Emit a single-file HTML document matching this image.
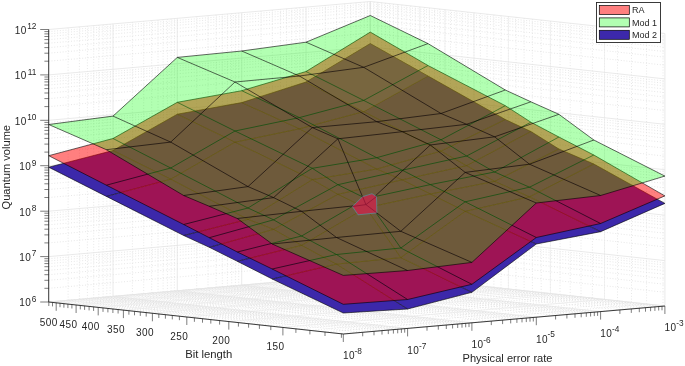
<!DOCTYPE html>
<html><head><meta charset="utf-8"><title>Quantum volume</title>
<style>html,body{margin:0;padding:0;background:#fff}svg{display:block}</style></head>
<body>
<svg width="685" height="366" viewBox="0 0 685 366" font-family="'Liberation Sans', Arial, sans-serif" fill="#262626">
<rect width="685" height="366" fill="#fff"/>
<path d="M48.7 288.3L370.3 260.3M370.3 260.3L664.9 292.3M48.7 280.3L370.3 252.3M370.3 252.3L664.9 284.3M48.7 274.7L370.3 246.7M370.3 246.7L664.9 278.7M48.7 270.3L370.3 242.3M370.3 242.3L664.9 274.3M48.7 266.7L370.3 238.7M370.3 238.7L664.9 270.7M48.7 263.6L370.3 235.6M370.3 235.6L664.9 267.6M48.7 261L370.3 233M370.3 233L664.9 265M48.7 258.7L370.3 230.7M370.3 230.7L664.9 262.7M48.7 242.9L370.3 214.9M370.3 214.9L664.9 246.9M48.7 234.9L370.3 206.9M370.3 206.9L664.9 238.9M48.7 229.2L370.3 201.2M370.3 201.2L664.9 233.2M48.7 224.8L370.3 196.8M370.3 196.8L664.9 228.8M48.7 221.2L370.3 193.2M370.3 193.2L664.9 225.2M48.7 218.2L370.3 190.2M370.3 190.2L664.9 222.2M48.7 215.6L370.3 187.6M370.3 187.6L664.9 219.6M48.7 213.2L370.3 185.2M370.3 185.2L664.9 217.2M48.7 197.5L370.3 169.5M370.3 169.5L664.9 201.5M48.7 189.5L370.3 161.5M370.3 161.5L664.9 193.5M48.7 183.8L370.3 155.8M370.3 155.8L664.9 187.8M48.7 179.4L370.3 151.4M370.3 151.4L664.9 183.4M48.7 175.8L370.3 147.8M370.3 147.8L664.9 179.8M48.7 172.8L370.3 144.8M370.3 144.8L664.9 176.8M48.7 170.1L370.3 142.1M370.3 142.1L664.9 174.1M48.7 167.8L370.3 139.8M370.3 139.8L664.9 171.8M48.7 152.1L370.3 124.1M370.3 124.1L664.9 156.1M48.7 144.1L370.3 116.1M370.3 116.1L664.9 148.1M48.7 138.4L370.3 110.4M370.3 110.4L664.9 142.4M48.7 134L370.3 106M370.3 106L664.9 138M48.7 130.4L370.3 102.4M370.3 102.4L664.9 134.4M48.7 127.4L370.3 99.4M370.3 99.4L664.9 131.4M48.7 124.7L370.3 96.7M370.3 96.7L664.9 128.7M48.7 122.4L370.3 94.4M370.3 94.4L664.9 126.4M48.7 106.6L370.3 78.6M370.3 78.6L664.9 110.6M48.7 98.6L370.3 70.6M370.3 70.6L664.9 102.6M48.7 93L370.3 65M370.3 65L664.9 97M48.7 88.6L370.3 60.6M370.3 60.6L664.9 92.6M48.7 85L370.3 57M370.3 57L664.9 89M48.7 81.9L370.3 53.9M370.3 53.9L664.9 85.9M48.7 79.3L370.3 51.3M370.3 51.3L664.9 83.3M48.7 77L370.3 49M370.3 49L664.9 81M48.7 61.2L370.3 33.2M370.3 33.2L664.9 65.2M48.7 53.2L370.3 25.2M370.3 25.2L664.9 57.2M48.7 47.6L370.3 19.6M370.3 19.6L664.9 51.6M48.7 43.2L370.3 15.2M370.3 15.2L664.9 47.2M48.7 39.6L370.3 11.6M370.3 11.6L664.9 43.6M48.7 36.5L370.3 8.5M370.3 8.5L664.9 40.5M48.7 33.9L370.3 5.9M370.3 5.9L664.9 37.9M48.7 31.6L370.3 3.6M370.3 3.6L664.9 35.6M362.7 332.3L68.1 300.3M68.1 300.3L68.1 27.8M374 331.3L79.4 299.3M79.4 299.3L79.4 26.8M382 330.6L87.4 298.6M87.4 298.6L87.4 26.1M388.3 330.1L93.7 298.1M93.7 298.1L93.7 25.6M393.4 329.6L98.8 297.6M98.8 297.6L98.8 25.1M397.7 329.3L103.1 297.3M103.1 297.3L103.1 24.7M401.4 328.9L106.8 296.9M106.8 296.9L106.8 24.4M404.7 328.7L110.1 296.7M110.1 296.7L110.1 24.1M427 326.7L132.4 294.7M132.4 294.7L132.4 22.2M438.3 325.7L143.7 293.7M143.7 293.7L143.7 21.2M446.3 325L151.7 293M151.7 293L151.7 20.5M452.6 324.5L158 292.5M158 292.5L158 20M457.7 324L163.1 292M163.1 292L163.1 19.5M462 323.7L167.4 291.7M167.4 291.7L167.4 19.1M465.7 323.3L171.1 291.3M171.1 291.3L171.1 18.8M469 323.1L174.4 291.1M174.4 291.1L174.4 18.5M491.3 321.1L196.7 289.1M196.7 289.1L196.7 16.6M502.6 320.1L208 288.1M208 288.1L208 15.6M510.7 319.4L216.1 287.4M216.1 287.4L216.1 14.9M516.9 318.9L222.3 286.9M222.3 286.9L222.3 14.4M522 318.4L227.4 286.4M227.4 286.4L227.4 13.9M526.3 318.1L231.7 286.1M231.7 286.1L231.7 13.5M530 317.7L235.4 285.7M235.4 285.7L235.4 13.2M533.3 317.5L238.7 285.5M238.7 285.5L238.7 12.9M555.6 315.5L261 283.5M261 283.5L261 11M566.9 314.5L272.3 282.5M272.3 282.5L272.3 10M575 313.8L280.4 281.8M280.4 281.8L280.4 9.3M581.2 313.3L286.6 281.3M286.6 281.3L286.6 8.8M586.3 312.8L291.7 280.8M291.7 280.8L291.7 8.3M590.6 312.5L296 280.5M296 280.5L296 7.9M594.3 312.1L299.7 280.1M299.7 280.1L299.7 7.6M597.6 311.9L303 279.9M303 279.9L303 7.3M619.9 309.9L325.3 277.9M325.3 277.9L325.3 5.4M631.3 308.9L336.7 276.9M336.7 276.9L336.7 4.4M639.3 308.2L344.7 276.2M344.7 276.2L344.7 3.7M645.5 307.7L350.9 275.7M350.9 275.7L350.9 3.2M650.6 307.2L356 275.2M356 275.2L356 2.7M654.9 306.9L360.3 274.9M360.3 274.9L360.3 2.3M658.7 306.5L364.1 274.5M364.1 274.5L364.1 2M662 306.3L367.4 274.3M367.4 274.3L367.4 1.7M341.4 333.8L663 305.8M663 305.8L663 33.3M325 332L646.6 304M646.6 304L646.6 31.5M309.9 330.4L631.5 302.4M631.5 302.4L631.5 29.9M295.9 328.9L617.5 300.9M617.5 300.9L617.5 28.3M282.9 327.4L604.5 299.4M604.5 299.4L604.5 26.9M270.8 326.1L592.4 298.1M592.4 298.1L592.4 25.6M259.4 324.9L581 296.9M581 296.9L581 24.4M248.6 323.7L570.2 295.7M570.2 295.7L570.2 23.2M238.4 322.6L560 294.6M560 294.6L560 22.1M228.8 321.6L550.4 293.6M550.4 293.6L550.4 21M219.6 320.6L541.2 292.6M541.2 292.6L541.2 20M210.8 319.6L532.4 291.6M532.4 291.6L532.4 19.1M202.5 318.7L524.1 290.7M524.1 290.7L524.1 18.2M194.4 317.8L516 289.8M516 289.8L516 17.3M186.8 317L508.4 289M508.4 289L508.4 16.5M179.4 316.2L501 288.2M501 288.2L501 15.7M172.3 315.4L493.9 287.4M493.9 287.4L493.9 14.9M165.4 314.7L487 286.7M487 286.7L487 14.2M158.8 314L480.4 286M480.4 286L480.4 13.4M152.4 313.3L474 285.3M474 285.3L474 12.7M146.2 312.6L467.8 284.6M467.8 284.6L467.8 12.1M140.3 311.9L461.9 283.9M461.9 283.9L461.9 11.4M134.5 311.3L456.1 283.3M456.1 283.3L456.1 10.8M128.9 310.7L450.5 282.7M450.5 282.7L450.5 10.2M123.4 310.1L445 282.1M445 282.1L445 9.6M118.1 309.5L439.7 281.5M439.7 281.5L439.7 9M112.9 309L434.5 281M434.5 281L434.5 8.5M107.9 308.4L429.5 280.4M429.5 280.4L429.5 7.9M103 307.9L424.6 279.9M424.6 279.9L424.6 7.4M98.2 307.4L419.8 279.4M419.8 279.4L419.8 6.9M93.6 306.9L415.2 278.9M415.2 278.9L415.2 6.4M89.1 306.4L410.7 278.4M410.7 278.4L410.7 5.9M84.6 305.9L406.2 277.9M406.2 277.9L406.2 5.4M80.3 305.4L401.9 277.4M401.9 277.4L401.9 4.9M76.1 305L397.7 277M397.7 277L397.7 4.5M71.9 304.5L393.5 276.5M393.5 276.5L393.5 4M67.9 304.1L389.5 276.1M389.5 276.1L389.5 3.6M63.9 303.7L385.5 275.7M385.5 275.7L385.5 3.1M60 303.2L381.6 275.2M381.6 275.2L381.6 2.7M56.2 302.8L377.8 274.8M377.8 274.8L377.8 2.3M52.5 302.4L374.1 274.4M374.1 274.4L374.1 1.9M48.8 302L370.4 274M370.4 274L370.4 1.5" stroke="#d6d6d6" stroke-width="0.6" stroke-dasharray="1 1.8" fill="none"/>
<path d="M282.9 327.4L604.5 299.4M604.5 299.4L604.5 26.9M228.8 321.6L550.4 293.6M550.4 293.6L550.4 21M186.8 317L508.4 289M508.4 289L508.4 16.5M152.4 313.3L474 285.3M474 285.3L474 12.7M123.4 310.1L445 282.1M445 282.1L445 9.6M98.2 307.4L419.8 279.4M419.8 279.4L419.8 6.9M76.1 305L397.7 277M397.7 277L397.7 4.5M56.2 302.8L377.8 274.8M377.8 274.8L377.8 2.3" stroke="#ededed" stroke-width="0.7" fill="none"/>
<path d="M48.7 302L370.3 274M370.3 274L664.9 306M48.7 256.6L370.3 228.6M370.3 228.6L664.9 260.6M48.7 211.2L370.3 183.2M370.3 183.2L664.9 215.2M48.7 165.7L370.3 137.7M370.3 137.7L664.9 169.7M48.7 120.3L370.3 92.3M370.3 92.3L664.9 124.3M48.7 74.9L370.3 46.9M370.3 46.9L664.9 78.9M48.7 29.5L370.3 1.5M370.3 1.5L664.9 33.5M343.3 334L48.7 302M48.7 302L48.7 29.5M407.6 328.4L113 296.4M113 296.4L113 23.9M471.9 322.8L177.3 290.8M177.3 290.8L177.3 18.3M536.3 317.2L241.7 285.2M241.7 285.2L241.7 12.7M600.6 311.6L306 279.6M306 279.6L306 7.1M664.9 306L370.3 274M370.3 274L370.3 1.5M48.7 302L370.3 274M370.3 274L370.3 1.5M343.3 334L664.9 306M664.9 306L664.9 33.5" stroke="#e4e4e4" stroke-width="0.8" fill="none"/>
<g fill="#3c28aa" fill-opacity="1" stroke="none"><polygon points="48.7,167.2 113,150.5 170.7,179.2 106.4,196.4"/><polygon points="113,150.5 177.3,114.2 235,142.2 170.7,179.2"/><polygon points="177.3,114.2 241.7,102.6 299.4,128.8 235,142.2"/><polygon points="241.7,102.6 306,82 363.7,111.6 299.4,128.8"/><polygon points="306,82 370.3,43.6 428,76 363.7,111.6"/><polygon points="106.4,196.4 170.7,179.2 248,219.3 183.7,235.5"/><polygon points="170.7,179.2 235,142.2 312.3,179.6 248,219.3"/><polygon points="235,142.2 299.4,128.8 376.7,169 312.3,179.6"/><polygon points="299.4,128.8 363.7,111.6 441,151.1 376.7,169"/><polygon points="363.7,111.6 428,76 505.3,119.5 441,151.1"/><polygon points="183.7,235.5 248,219.3 273.6,229.4 209.3,247.3"/><polygon points="248,219.3 312.3,179.6 337.9,194.3 273.6,229.4"/><polygon points="312.3,179.6 376.7,169 402.3,179.8 337.9,194.3"/><polygon points="376.7,169 441,151.1 466.6,165.6 402.3,179.8"/><polygon points="441,151.1 505.3,119.5 530.9,131.5 466.6,165.6"/><polygon points="209.3,247.3 273.6,229.4 301.6,245.4 237.3,261.3"/><polygon points="273.6,229.4 337.9,194.3 365.9,207.9 301.6,245.4"/><polygon points="337.9,194.3 402.3,179.8 430.3,194 365.9,207.9"/><polygon points="402.3,179.8 466.6,165.6 494.6,181.4 430.3,194"/><polygon points="466.6,165.6 530.9,131.5 558.9,149 494.6,181.4"/><polygon points="237.3,261.3 301.6,245.4 336.5,264.1 272.2,279"/><polygon points="301.6,245.4 365.9,207.9 400.8,257.6 336.5,264.1"/><polygon points="365.9,207.9 430.3,194 465.2,211.4 400.8,257.6"/><polygon points="430.3,194 494.6,181.4 529.5,196.8 465.2,211.4"/><polygon points="494.6,181.4 558.9,149 593.8,164 529.5,196.8"/><polygon points="272.2,279 336.5,264.1 407.6,309 343.3,313"/><polygon points="336.5,264.1 400.8,257.6 471.9,292.3 407.6,309"/><polygon points="400.8,257.6 465.2,211.4 536.3,244 471.9,292.3"/><polygon points="465.2,211.4 529.5,196.8 600.6,231.7 536.3,244"/><polygon points="529.5,196.8 593.8,164 664.9,203.4 600.6,231.7"/></g>
<path d="M48.7 167.2L113 150.5L177.3 114.2L241.7 102.6L306 82L370.3 43.6M106.4 196.4L170.7 179.2L235 142.2L299.4 128.8L363.7 111.6L428 76M183.7 235.5L248 219.3L312.3 179.6L376.7 169L441 151.1L505.3 119.5M209.3 247.3L273.6 229.4L337.9 194.3L402.3 179.8L466.6 165.6L530.9 131.5M237.3 261.3L301.6 245.4L365.9 207.9L430.3 194L494.6 181.4L558.9 149M272.2 279L336.5 264.1L400.8 257.6L465.2 211.4L529.5 196.8L593.8 164M343.3 313L407.6 309L471.9 292.3L536.3 244L600.6 231.7L664.9 203.4M48.7 167.2L106.4 196.4L183.7 235.5L209.3 247.3L237.3 261.3L272.2 279L343.3 313M113 150.5L170.7 179.2L248 219.3L273.6 229.4L301.6 245.4L336.5 264.1L407.6 309M177.3 114.2L235 142.2L312.3 179.6L337.9 194.3L365.9 207.9L400.8 257.6L471.9 292.3M241.7 102.6L299.4 128.8L376.7 169L402.3 179.8L430.3 194L465.2 211.4L536.3 244M306 82L363.7 111.6L441 151.1L466.6 165.6L494.6 181.4L529.5 196.8L600.6 231.7M370.3 43.6L428 76L505.3 119.5L530.9 131.5L558.9 149L593.8 164L664.9 203.4" fill="none" stroke="#000" stroke-width="0.6" stroke-linejoin="round"/>
<polygon points="306,82 370.3,43.6 428,76 363.7,111.6" fill="#fff" fill-opacity="0.16"/>
<g fill="#ff0000" fill-opacity="0.5" stroke="none"><polygon points="48.7,155.7 113,138.5 170.7,168 106.4,185.2"/><polygon points="113,138.5 177.3,102.3 235,131 170.7,168"/><polygon points="177.3,102.3 241.7,90.7 299.4,117.6 235,131"/><polygon points="241.7,90.7 306,71.5 363.7,100.4 299.4,117.6"/><polygon points="306,71.5 370.3,32.1 428,65.5 363.7,100.4"/><polygon points="106.4,185.2 170.7,168 248,208 183.7,224.5"/><polygon points="170.7,168 235,131 312.3,168.3 248,208"/><polygon points="235,131 299.4,117.6 376.7,157.7 312.3,168.3"/><polygon points="299.4,117.6 363.7,100.4 441,139.8 376.7,157.7"/><polygon points="363.7,100.4 428,65.5 505.3,105.7 441,139.8"/><polygon points="183.7,224.5 248,208 273.6,219.8 209.3,237.7"/><polygon points="248,208 312.3,168.3 337.9,184.7 273.6,219.8"/><polygon points="312.3,168.3 376.7,157.7 402.3,170.2 337.9,184.7"/><polygon points="376.7,157.7 441,139.8 466.6,156 402.3,170.2"/><polygon points="441,139.8 505.3,105.7 530.9,122.2 466.6,156"/><polygon points="209.3,237.7 273.6,219.8 301.6,236 237.3,252"/><polygon points="273.6,219.8 337.9,184.7 365.9,198.5 301.6,236"/><polygon points="337.9,184.7 402.3,170.2 430.3,184.6 365.9,198.5"/><polygon points="402.3,170.2 466.6,156 494.6,172 430.3,184.6"/><polygon points="466.6,156 530.9,122.2 558.9,137 494.6,172"/><polygon points="237.3,252 301.6,236 336.5,254.5 272.2,269"/><polygon points="301.6,236 365.9,198.5 400.8,248 336.5,254.5"/><polygon points="365.9,198.5 430.3,184.6 465.2,201.8 400.8,248"/><polygon points="430.3,184.6 494.6,172 529.5,187.2 465.2,201.8"/><polygon points="494.6,172 558.9,137 593.8,155 529.5,187.2"/><polygon points="272.2,269 336.5,254.5 407.6,299.5 343.3,304.3"/><polygon points="336.5,254.5 400.8,248 471.9,284.3 407.6,299.5"/><polygon points="400.8,248 465.2,201.8 536.3,237.5 471.9,284.3"/><polygon points="465.2,201.8 529.5,187.2 600.6,223.5 536.3,237.5"/><polygon points="529.5,187.2 593.8,155 664.9,195.9 600.6,223.5"/></g>
<path d="M48.7 155.7L113 138.5L177.3 102.3L241.7 90.7L306 71.5L370.3 32.1M106.4 185.2L170.7 168L235 131L299.4 117.6L363.7 100.4L428 65.5M183.7 224.5L248 208L312.3 168.3L376.7 157.7L441 139.8L505.3 105.7M209.3 237.7L273.6 219.8L337.9 184.7L402.3 170.2L466.6 156L530.9 122.2M237.3 252L301.6 236L365.9 198.5L430.3 184.6L494.6 172L558.9 137M272.2 269L336.5 254.5L400.8 248L465.2 201.8L529.5 187.2L593.8 155M343.3 304.3L407.6 299.5L471.9 284.3L536.3 237.5L600.6 223.5L664.9 195.9M48.7 155.7L106.4 185.2L183.7 224.5L209.3 237.7L237.3 252L272.2 269L343.3 304.3M113 138.5L170.7 168L248 208L273.6 219.8L301.6 236L336.5 254.5L407.6 299.5M177.3 102.3L235 131L312.3 168.3L337.9 184.7L365.9 198.5L400.8 248L471.9 284.3M241.7 90.7L299.4 117.6L376.7 157.7L402.3 170.2L430.3 184.6L465.2 201.8L536.3 237.5M306 71.5L363.7 100.4L441 139.8L466.6 156L494.6 172L529.5 187.2L600.6 223.5M370.3 32.1L428 65.5L505.3 105.7L530.9 122.2L558.9 137L593.8 155L664.9 195.9" fill="none" stroke="#000" stroke-width="0.6" stroke-linejoin="round"/>
<g fill="#00ff00" fill-opacity="0.3" stroke="none"><polygon points="48.7,124.5 113,116.1 170.7,142.1 106.4,149.7"/><polygon points="113,116.1 177.3,57.4 235,82 170.7,142.1"/><polygon points="177.3,57.4 241.7,51 299.4,76 235,82"/><polygon points="241.7,51 306,42.2 363.7,67.3 299.4,76"/><polygon points="306,42.2 370.3,15.5 428,43.6 363.7,67.3"/><polygon points="106.4,149.7 170.7,142.1 248,186.6 183.7,195.5"/><polygon points="170.7,142.1 235,82 312.3,127.6 248,186.6"/><polygon points="235,82 299.4,76 376.7,121.7 312.3,127.6"/><polygon points="299.4,76 363.7,67.3 441,113.5 376.7,121.7"/><polygon points="363.7,67.3 428,43.6 505.3,90 441,113.5"/><polygon points="183.7,195.5 248,186.6 273.6,197.6 209.3,206.3"/><polygon points="248,186.6 312.3,127.6 337.9,138.8 273.6,197.6"/><polygon points="312.3,127.6 376.7,121.7 402.3,131.7 337.9,138.8"/><polygon points="376.7,121.7 441,113.5 466.6,124.3 402.3,131.7"/><polygon points="441,113.5 505.3,90 530.9,101.8 466.6,124.3"/><polygon points="209.3,206.3 273.6,197.6 301.6,211.3 237.3,218.5"/><polygon points="273.6,197.6 337.9,138.8 365.9,204.6 301.6,211.3"/><polygon points="337.9,138.8 402.3,131.7 430.3,145 365.9,204.6"/><polygon points="402.3,131.7 466.6,124.3 494.6,136.8 430.3,145"/><polygon points="466.6,124.3 530.9,101.8 558.9,114.3 494.6,136.8"/><polygon points="237.3,218.5 301.6,211.3 336.5,237.5 272.2,244"/><polygon points="301.6,211.3 365.9,204.6 400.8,231.3 336.5,237.5"/><polygon points="365.9,204.6 430.3,145 465.2,172.4 400.8,231.3"/><polygon points="430.3,145 494.6,136.8 529.5,164.2 465.2,172.4"/><polygon points="494.6,136.8 558.9,114.3 593.8,140 529.5,164.2"/><polygon points="272.2,244 336.5,237.5 407.6,270.5 343.3,275.4"/><polygon points="336.5,237.5 400.8,231.3 471.9,262.4 407.6,270.5"/><polygon points="400.8,231.3 465.2,172.4 536.3,203 471.9,262.4"/><polygon points="465.2,172.4 529.5,164.2 600.6,195.5 536.3,203"/><polygon points="529.5,164.2 593.8,140 664.9,176.1 600.6,195.5"/></g>
<path d="M48.7 124.5L113 116.1L177.3 57.4L241.7 51L306 42.2L370.3 15.5M106.4 149.7L170.7 142.1L235 82L299.4 76L363.7 67.3L428 43.6M183.7 195.5L248 186.6L312.3 127.6L376.7 121.7L441 113.5L505.3 90M209.3 206.3L273.6 197.6L337.9 138.8L402.3 131.7L466.6 124.3L530.9 101.8M237.3 218.5L301.6 211.3L365.9 204.6L430.3 145L494.6 136.8L558.9 114.3M272.2 244L336.5 237.5L400.8 231.3L465.2 172.4L529.5 164.2L593.8 140M343.3 275.4L407.6 270.5L471.9 262.4L536.3 203L600.6 195.5L664.9 176.1M48.7 124.5L106.4 149.7L183.7 195.5L209.3 206.3L237.3 218.5L272.2 244L343.3 275.4M113 116.1L170.7 142.1L248 186.6L273.6 197.6L301.6 211.3L336.5 237.5L407.6 270.5M177.3 57.4L235 82L312.3 127.6L337.9 138.8L365.9 204.6L400.8 231.3L471.9 262.4M241.7 51L299.4 76L376.7 121.7L402.3 131.7L430.3 145L465.2 172.4L536.3 203M306 42.2L363.7 67.3L441 113.5L466.6 124.3L494.6 136.8L529.5 164.2L600.6 195.5M370.3 15.5L428 43.6L505.3 90L530.9 101.8L558.9 114.3L593.8 140L664.9 176.1" fill="none" stroke="#000" stroke-width="0.6" stroke-linejoin="round"/>
<polygon points="352.4,206.5 362.7,196.6 372,193.7 376.5,196.6 376.9,212.9 358,214.8" fill="#b82f47" stroke="#4a9fb0" stroke-width="0.6"/>
<path d="M352.4 206.5L365.9 204.6L376.9 212.9M362.7 196.6L365.9 204.6L376.5 196.6" stroke="#8a1030" stroke-width="0.7" fill="none"/>
<path d="M48.7 302L48.7 29.5M48.7 302L343.3 334M343.3 334L664.9 306" stroke="#262626" stroke-width="0.9" fill="none"/>
<path d="M40.2 302H48.7M44.4 288.3H48.7M44.4 280.3H48.7M44.4 274.7H48.7M44.4 270.3H48.7M44.4 266.7H48.7M44.4 263.6H48.7M44.4 261H48.7M44.4 258.7H48.7M40.2 256.6H48.7M44.4 242.9H48.7M44.4 234.9H48.7M44.4 229.2H48.7M44.4 224.8H48.7M44.4 221.2H48.7M44.4 218.2H48.7M44.4 215.6H48.7M44.4 213.2H48.7M40.2 211.2H48.7M44.4 197.5H48.7M44.4 189.5H48.7M44.4 183.8H48.7M44.4 179.4H48.7M44.4 175.8H48.7M44.4 172.8H48.7M44.4 170.1H48.7M44.4 167.8H48.7M40.2 165.7H48.7M44.4 152.1H48.7M44.4 144.1H48.7M44.4 138.4H48.7M44.4 134H48.7M44.4 130.4H48.7M44.4 127.4H48.7M44.4 124.7H48.7M44.4 122.4H48.7M40.2 120.3H48.7M44.4 106.6H48.7M44.4 98.6H48.7M44.4 93H48.7M44.4 88.6H48.7M44.4 85H48.7M44.4 81.9H48.7M44.4 79.3H48.7M44.4 77H48.7M40.2 74.9H48.7M44.4 61.2H48.7M44.4 53.2H48.7M44.4 47.6H48.7M44.4 43.2H48.7M44.4 39.6H48.7M44.4 36.5H48.7M44.4 33.9H48.7M44.4 31.6H48.7M40.2 29.5H48.7M341.4 333.8v4M325 332v4M309.9 330.4v4M295.9 328.9v4M282.9 327.4v8M270.8 326.1v4M259.4 324.9v4M248.6 323.7v4M238.4 322.6v4M228.8 321.6v8M219.6 320.6v4M210.8 319.6v4M202.5 318.7v4M194.4 317.8v4M186.8 317v8M179.4 316.2v4M172.3 315.4v4M165.4 314.7v4M158.8 314v4M152.4 313.3v8M146.2 312.6v4M140.3 311.9v4M134.5 311.3v4M128.9 310.7v4M123.4 310.1v8M118.1 309.5v4M112.9 309v4M107.9 308.4v4M103 307.9v4M98.2 307.4v8M93.6 306.9v4M89.1 306.4v4M84.6 305.9v4M80.3 305.4v4M76.1 305v8M71.9 304.5v4M67.9 304.1v4M63.9 303.7v4M60 303.2v4M56.2 302.8v8M52.5 302.4v4M48.8 302v4M343.3 334v8M362.7 332.3v4M374 331.3v4M382 330.6v4M388.3 330.1v4M393.4 329.6v4M397.7 329.3v4M401.4 328.9v4M404.7 328.7v4M407.6 328.4v8M427 326.7v4M438.3 325.7v4M446.3 325v4M452.6 324.5v4M457.7 324v4M462 323.7v4M465.7 323.3v4M469 323.1v4M471.9 322.8v8M491.3 321.1v4M502.6 320.1v4M510.7 319.4v4M516.9 318.9v4M522 318.4v4M526.3 318.1v4M530 317.7v4M533.3 317.5v4M536.3 317.2v8M555.6 315.5v4M566.9 314.5v4M575 313.8v4M581.2 313.3v4M586.3 312.8v4M590.6 312.5v4M594.3 312.1v4M597.6 311.9v4M600.6 311.6v8M619.9 309.9v4M631.3 308.9v4M639.3 308.2v4M645.5 307.7v4M650.6 307.2v4M654.9 306.9v4M658.7 306.5v4M662 306.3v4M664.9 306v8" stroke="#262626" stroke-width="0.6" fill="none"/>
<text x="36.4" y="301.8" font-size="8.3" text-anchor="end">6</text>
<text x="31.3" y="306.4" font-size="10" letter-spacing="0.45" text-anchor="end">10</text>
<text x="36.4" y="256.4" font-size="8.3" text-anchor="end">7</text>
<text x="31.3" y="261" font-size="10" letter-spacing="0.45" text-anchor="end">10</text>
<text x="36.4" y="211" font-size="8.3" text-anchor="end">8</text>
<text x="31.3" y="215.6" font-size="10" letter-spacing="0.45" text-anchor="end">10</text>
<text x="36.4" y="165.5" font-size="8.3" text-anchor="end">9</text>
<text x="31.3" y="170.1" font-size="10" letter-spacing="0.45" text-anchor="end">10</text>
<text x="36.4" y="120.1" font-size="8.3" text-anchor="end">10</text>
<text x="26.9" y="124.7" font-size="10" letter-spacing="0.45" text-anchor="end">10</text>
<text x="36.4" y="74.7" font-size="8.3" text-anchor="end">11</text>
<text x="26.9" y="79.3" font-size="10" letter-spacing="0.45" text-anchor="end">10</text>
<text x="36.4" y="29.3" font-size="8.3" text-anchor="end">12</text>
<text x="26.9" y="33.9" font-size="10" letter-spacing="0.45" text-anchor="end">10</text>
<text x="275.4" y="350.2" font-size="10" letter-spacing="0.45" text-anchor="middle">150</text>
<text x="221.3" y="344.4" font-size="10" letter-spacing="0.45" text-anchor="middle">200</text>
<text x="179.3" y="339.8" font-size="10" letter-spacing="0.45" text-anchor="middle">250</text>
<text x="144.9" y="336.1" font-size="10" letter-spacing="0.45" text-anchor="middle">300</text>
<text x="115.9" y="332.9" font-size="10" letter-spacing="0.45" text-anchor="middle">350</text>
<text x="90.7" y="330.2" font-size="10" letter-spacing="0.45" text-anchor="middle">400</text>
<text x="68.6" y="327.8" font-size="10" letter-spacing="0.45" text-anchor="middle">450</text>
<text x="48.7" y="325.6" font-size="10" letter-spacing="0.45" text-anchor="middle">500</text>
<text x="343" y="359.4" font-size="10" letter-spacing="0.45">10</text>
<text x="354.6" y="354.2" font-size="8.3">-8</text>
<text x="407.3" y="353.8" font-size="10" letter-spacing="0.45">10</text>
<text x="418.9" y="348.6" font-size="8.3">-7</text>
<text x="471.6" y="348.2" font-size="10" letter-spacing="0.45">10</text>
<text x="483.2" y="343" font-size="8.3">-6</text>
<text x="536" y="342.6" font-size="10" letter-spacing="0.45">10</text>
<text x="547.6" y="337.4" font-size="8.3">-5</text>
<text x="600.3" y="337" font-size="10" letter-spacing="0.45">10</text>
<text x="611.9" y="331.8" font-size="8.3">-4</text>
<text x="664.6" y="331.4" font-size="10" letter-spacing="0.45">10</text>
<text x="676.2" y="326.2" font-size="8.3">-3</text>
<text x="208.7" y="358.4" font-size="11.3" text-anchor="middle">Bit length</text>
<text x="507.5" y="362" font-size="11.1" text-anchor="middle">Physical error rate</text>
<text transform="translate(10.3 167.2) rotate(-90)" font-size="11.1" text-anchor="middle">Quantum volume</text>
<rect x="596.5" y="2.5" width="64" height="40" fill="#fff" stroke="#262626" stroke-width="0.9"/>
<rect x="599.3" y="5.5" width="30" height="9" fill="#ff0000" fill-opacity="0.5" stroke="none"/>
<rect x="599.3" y="5.5" width="30" height="9" fill="none" stroke="#000" stroke-width="0.7"/>
<text x="632" y="13.4" font-size="9">RA</text>
<rect x="599.3" y="17.9" width="30" height="9" fill="#00ff00" fill-opacity="0.3" stroke="none"/>
<rect x="599.3" y="17.9" width="30" height="9" fill="none" stroke="#000" stroke-width="0.7"/>
<text x="632" y="25.8" font-size="9">Mod 1</text>
<rect x="599.3" y="30.3" width="30" height="9" fill="#3c28aa" fill-opacity="1" stroke="none"/>
<rect x="599.3" y="30.3" width="30" height="9" fill="none" stroke="#000" stroke-width="0.7"/>
<text x="632" y="38.2" font-size="9">Mod 2</text>
</svg>
</body></html>
